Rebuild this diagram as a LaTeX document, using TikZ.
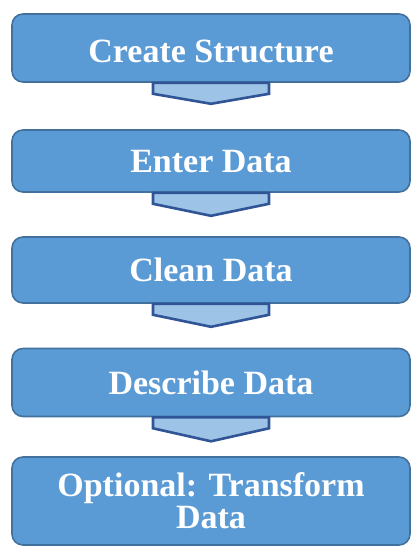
\documentclass[tikz,border=0pt]{standalone}
\usepackage{fontspec}
\setmainfont{Liberation Serif}
\definecolor{boxfill}{HTML}{5B9BD5}
\definecolor{boxline}{HTML}{41719C}
\definecolor{chevfill}{HTML}{9DC3E6}
\definecolor{chevline}{HTML}{2F5597}
\tikzset{
  stepbox/.style={draw=boxline, line width=1.6pt, fill=boxfill, rounded corners=11pt,
    minimum width=398pt, inner sep=0pt, text=white,
    font=\fontsize{34}{32}\selectfont\bfseries, align=center},
  onerow/.style={text height=23pt, text depth=0pt},
  chev/.style={draw=chevline, line width=2.6pt, fill=chevfill, line join=miter}
}
\begin{document}
\begin{tikzpicture}[x=1pt,y=-1pt]
\useasboundingbox (0,0) rectangle (413,546);
\node[stepbox, minimum height=68pt, onerow] (b1) at (211,48) {\raisebox{-3pt}{Create Structure}};
\node[stepbox, minimum height=62pt, onerow] (b2) at (211,161) {Enter Data};
\node[stepbox, minimum height=66pt, onerow] (b3) at (211,270) {Clean Data};
\node[stepbox, minimum height=68pt, onerow] (b4) at (211,382.5) {Describe Data};
\node[stepbox, minimum height=88pt] (b5) at (211,501) {Optional: Transform\\Data};
\draw[chev] ([xshift=-58pt]b1.south) -- ++(0,11) -- ++(58,10) -- ++(58,-10) -- ++(0,-11) -- cycle;
\draw[chev] ([xshift=-58pt]b2.south) -- ++(0,11) -- ++(58,12) -- ++(58,-12) -- ++(0,-11) -- cycle;
\draw[chev] ([xshift=-58pt]b3.south) -- ++(0,11) -- ++(58,12) -- ++(58,-12) -- ++(0,-11) -- cycle;
\draw[chev] ([xshift=-58pt]b4.south) -- ++(0,11) -- ++(58,13) -- ++(58,-13) -- ++(0,-11) -- cycle;
\end{tikzpicture}
\end{document}
